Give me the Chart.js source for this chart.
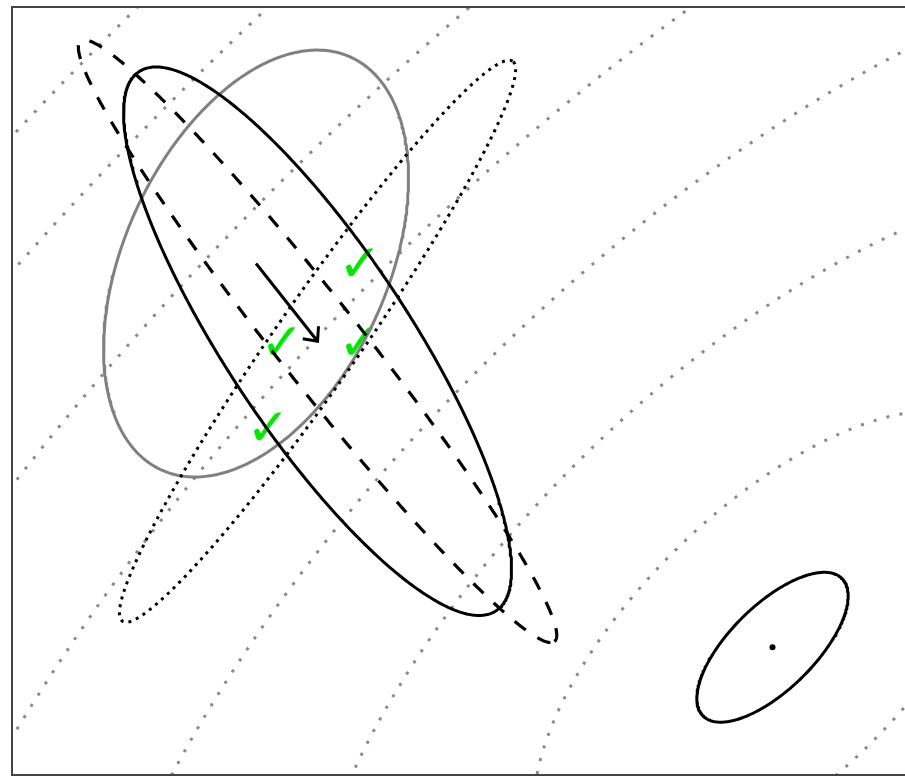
<!DOCTYPE html>
<html>
<head>
<meta charset="utf-8">
<script src="https://cdn.jsdelivr.net/npm/chart.js@4/dist/chart.umd.min.js"></script>
<style>
  html, body { margin: 0; padding: 0; overflow: hidden; background: #fff; }
  #wrap { position: absolute; left: 0; top: 0; width: 920px; height: 782px; }
</style>
</head>
<body>
<div id="wrap"><canvas id="c" width="920" height="782"></canvas></div>
<script>
// Axis limits (equal units on both axes)
const X_RANGE = [-3, 3];
const Y_RANGE = [-2.57, 2.6];

// Distributions: [centre x, centre y, semi-major, semi-minor, angle in degrees]
const oldDist = [-1.373, 0.873, 1.526, 0.877, 65.7];
const newDist = [-0.963, 0.35, 2.17, 0.61, -56.8];
const dashedDist = [-0.963, 0.35, 2.565, 0.28, -52.0];
const dottedDist = [-0.963, 0.35, 2.29, 0.28, 55.4];
const finalDist = [2.07, -1.71, 0.655, 0.283, 45];
const finalMean = [2.07, -1.71];

// Objective contours: common centre, axis angle, axis ratio and the minor radius of each level
const contourCentre = [2.07, -1.71];
const contourAngle = 45;
const contourRatio = 2.23;
const contourLevels = [0.92, 1.80, 2.707, 3.633, 4.533, 5.433, 6.04];

// Selected samples
const selectedX = [-0.68, -1.2, -0.68, -1.293];
const selectedY = [0.85, 0.32, 0.32, -0.255];

// Mean shift
const arrowFrom = [oldDist[0], oldDist[1]];
const arrowTo = [newDist[0], newDist[1]];

function ellipsePoints(cx, cy, a, b, deg, n) {
  const t = deg * Math.PI / 180, c = Math.cos(t), s = Math.sin(t);
  const pts = [];
  for (let i = 0; i <= n; i++) {
    const p = 2 * Math.PI * i / n;
    const u = a * Math.cos(p), v = b * Math.sin(p);
    pts.push({ x: cx + u * c - v * s, y: cy + u * s + v * c });
  }
  return pts;
}
const fromDist = (d, n) => ellipsePoints(d[0], d[1], d[2], d[3], d[4], n);

function curve(data, color, width, dash, order) {
  return {
    type: 'scatter', data, showLine: true, order,
    borderColor: color, borderWidth: width, borderDash: dash,
    borderCapStyle: 'butt', borderJoinStyle: 'round',
    pointRadius: 0, pointHoverRadius: 0, fill: false, tension: 0
  };
}

// Check-mark glyph used as point style
const tick = document.createElement('canvas');
tick.width = 72; tick.height = 72;
(function () {
  const g = tick.getContext('2d');
  g.fillStyle = '#00e800';
  g.font = '52px "DejaVu Sans"';
  g.textAlign = 'center';
  g.textBaseline = 'middle';
  g.fillText('\u2713', 36, 36);
})();

const datasets = [];
contourLevels.forEach(r => {
  datasets.push(curve(
    ellipsePoints(contourCentre[0], contourCentre[1], r * contourRatio, r, contourAngle, 2000),
    '#8a8a8a', 3, [3, 10.3], 8));
});
datasets.push(curve(fromDist(oldDist, 400), '#808080', 3, [], 5));
datasets.push(curve(fromDist(dottedDist, 600), '#000', 3, [3, 5], 4));
datasets.push(curve(fromDist(dashedDist, 600), '#000', 3.2, [14, 14], 3));
datasets.push(curve(fromDist(newDist, 500), '#000', 3, [], 2));
datasets.push(curve(fromDist(finalDist, 300), '#000', 3, [], 2));
datasets.push(curve([{ x: arrowFrom[0], y: arrowFrom[1] }, { x: arrowTo[0], y: arrowTo[1] }], '#000', 3, [], 1));
datasets.push({
  type: 'scatter', order: 6,
  data: selectedX.map((x, i) => ({ x, y: selectedY[i] })),
  pointStyle: tick, pointRadius: 6, pointHoverRadius: 6
});
datasets.push({
  type: 'scatter', order: 0,
  data: [{ x: finalMean[0], y: finalMean[1] }],
  pointStyle: 'circle', pointRadius: 3, backgroundColor: '#000', borderWidth: 0
});

const arrowHead = {
  id: 'arrowHead',
  afterDatasetsDraw(chart) {
    const { ctx, scales: { x, y } } = chart;
    const x0 = x.getPixelForValue(arrowFrom[0]), y0 = y.getPixelForValue(arrowFrom[1]);
    const x1 = x.getPixelForValue(arrowTo[0]), y1 = y.getPixelForValue(arrowTo[1]);
    const ang = Math.atan2(y1 - y0, x1 - x0), L = 15, spread = 42 * Math.PI / 180;
    ctx.save();
    ctx.strokeStyle = '#000';
    ctx.lineWidth = 3;
    ctx.lineJoin = 'miter';
    ctx.beginPath();
    ctx.moveTo(x1 - L * Math.cos(ang - spread), y1 - L * Math.sin(ang - spread));
    ctx.lineTo(x1, y1);
    ctx.lineTo(x1 - L * Math.cos(ang + spread), y1 - L * Math.sin(ang + spread));
    ctx.stroke();
    ctx.restore();
  }
};

const frame = {
  id: 'frame',
  afterDraw(chart) {
    const { ctx, chartArea: a } = chart;
    ctx.save();
    ctx.strokeStyle = '#444';
    ctx.lineWidth = 2;
    ctx.strokeRect(a.left, a.top, a.right - a.left, a.bottom - a.top);
    ctx.restore();
  }
};

new Chart(document.getElementById('c'), {
  type: 'scatter',
  data: { datasets },
  options: {
    responsive: false,
    animation: false,
    events: [],
    layout: { padding: { left: 12, top: 5, right: 8, bottom: 1.5 } },
    plugins: { legend: { display: false }, tooltip: { enabled: false } },
    scales: {
      x: { type: 'linear', min: X_RANGE[0], max: X_RANGE[1], display: false },
      y: { type: 'linear', min: Y_RANGE[0], max: Y_RANGE[1], display: false }
    }
  },
  plugins: [arrowHead, frame]
});
</script>
</body>
</html>
